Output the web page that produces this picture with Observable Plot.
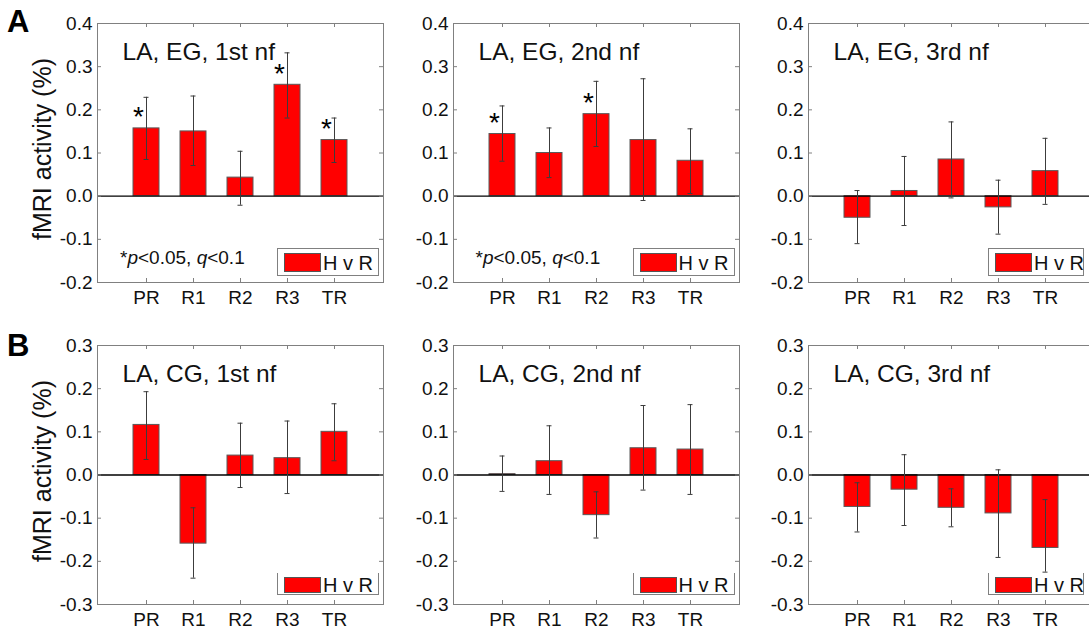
<!DOCTYPE html>
<html><head><meta charset="utf-8">
<script src="https://cdn.jsdelivr.net/npm/d3@7"></script>
<script src="https://cdn.jsdelivr.net/npm/@observablehq/plot@0.6"></script>
<style>
body{margin:0;background:#fff;overflow:hidden;font-family:"Liberation Sans",Arial,sans-serif;}
#root{position:relative;width:1089px;height:631px;overflow:hidden;background:#fff;}
.ylab{position:absolute;white-space:nowrap;font-size:25px;color:#111;transform:translate(-50%,-50%) rotate(-90deg);}
.letter{position:absolute;font-weight:bold;font-size:31px;color:#000;line-height:1;}
.note{position:absolute;font-size:19px;color:#111;white-space:nowrap;line-height:1;transform:translateY(-50%);}
.leg{position:absolute;background:#fff;box-sizing:border-box;}
.leg .patch{position:absolute;background:#ff0000;border:1px solid #555;box-sizing:border-box;}
.leg .txt{position:absolute;font-size:20px;color:#111;white-space:nowrap;line-height:1;transform:translateY(-50%);}
</style></head><body><div id="root"></div><script>
const categories = ["PR","R1","R2","R3","TR"];
const ticksA = [-0.2,-0.1,0,0.1,0.2,0.3,0.4];
const ticksB = [-0.3,-0.2,-0.1,0,0.1,0.2,0.3];
const titles = ["LA, EG, 1st nf","LA, EG, 2nd nf","LA, EG, 3rd nf","LA, CG, 1st nf","LA, CG, 2nd nf","LA, CG, 3rd nf"];
const yAxisLabel = "fMRI activity (%)";
const legendLabel = "H v R";

// Row A (EG)
const meanA1 = [0.157, 0.150, 0.043, 0.258, 0.130];
const hiA1   = [0.229, 0.232, 0.104, 0.332, 0.181];
const loA1   = [0.085, 0.071, -0.021, 0.181, 0.078];
const starA1 = [1,0,0,1,1];
const meanA2 = [0.144, 0.100, 0.190, 0.130, 0.082];
const hiA2   = [0.209, 0.158, 0.266, 0.272, 0.156];
const loA2   = [0.081, 0.043, 0.115, -0.010, 0.006];
const starA2 = [1,0,1,0,0];
const meanA3 = [-0.050, 0.012, 0.085, -0.026, 0.058];
const hiA3   = [0.013, 0.092, 0.172, 0.037, 0.134];
const loA3   = [-0.110, -0.068, -0.004, -0.088, -0.019];
const starA3 = [0,0,0,0,0];
// Row B (CG)
const meanB1 = [0.116, -0.159, 0.045, 0.039, 0.100];
const hiB1   = [0.193, -0.076, 0.120, 0.125, 0.165];
const loB1   = [0.036, -0.239, -0.029, -0.043, 0.033];
const meanB2 = [0.002, 0.032, -0.093, 0.062, 0.059];
const hiB2   = [0.044, 0.114, -0.039, 0.161, 0.163];
const loB2   = [-0.038, -0.045, -0.146, -0.035, -0.045];
const meanB3 = [-0.074, -0.034, -0.076, -0.089, -0.169];
const hiB3   = [-0.018, 0.047, -0.032, 0.012, -0.057];
const loB3   = [-0.132, -0.117, -0.120, -0.191, -0.225];
const noStars = [0,0,0,0,0];

const root = document.getElementById("root");
const W = 286, H = 259;
const mL = 60, mR = 12, mT = 8, mB = 36;
const frameGrey = "#808080";
const fmt = d => d.toFixed(1);

function panel(frameLeft, frameTop, yTicks, title, mean, lo, hi, stars) {
  const data = categories.map((c,i)=>({cat:c, mean:mean[i], lo:lo[i], hi:hi[i], star:stars[i]}));
  const chart = Plot.plot({
    width: mL+W+mR, height: mT+H+mB,
    marginLeft: mL, marginRight: mR, marginTop: mT, marginBottom: mB,
    style: {fontFamily: '"Liberation Sans", Arial, sans-serif', fontSize: "19px", color: "#111", background: "transparent", overflow: "visible"},
    x: {type: "band", domain: categories, paddingInner: 0.455, paddingOuter: 0.7275, label: null},
    y: {domain: [yTicks[0], yTicks[yTicks.length-1]], label: null},
    marks: [
      Plot.axisX({tickSize: 0, tickPadding: 8, fontSize: 19}),
      Plot.axisY(yTicks, {tickSize: 0, tickPadding: 5, tickFormat: fmt, fontSize: 19}),
      Plot.barY(data, {x: "cat", y: "mean", fill: "#ff0000", stroke: "#5a5a5a", strokeWidth: 1}),
      Plot.ruleY([0], {stroke: "#000", strokeWidth: 1.3}),
      Plot.ruleX(data, {x: "cat", y1: "lo", y2: "hi", stroke: "#3c3c3c", strokeWidth: 1}),
      Plot.tickY(data, {x: "cat", y: "lo", insetLeft: 10.5, insetRight: 10.5, stroke: "#3c3c3c"}),
      Plot.tickY(data, {x: "cat", y: "hi", insetLeft: 10.5, insetRight: 10.5, stroke: "#3c3c3c"}),
      Plot.text(data.filter(d => d.star), {x: "cat", y: "mean", text: () => "*", dx: -8, dy: -11, fontSize: 28, fill: "#000"}),
      Plot.tickY(yTicks, {y: d => d, insetRight: W-4, stroke: frameGrey}),
      Plot.tickY(yTicks, {y: d => d, insetLeft: W-4, stroke: frameGrey}),
      Plot.tickX(categories, {x: d => d, insetTop: H-4, stroke: frameGrey}),
      Plot.tickX(categories, {x: d => d, insetBottom: H-4, stroke: frameGrey}),
      Plot.frame({stroke: frameGrey, strokeWidth: 1}),
      Plot.text([title], {frameAnchor: "top-left", dx: 25, dy: 29, fontSize: 24.5, textAnchor: "start", lineAnchor: "middle", fill: "#111"})
    ]
  });
  chart.style.position = "absolute";
  chart.style.left = (frameLeft - mL) + "px";
  chart.style.top = (frameTop - mT) + "px";
  root.appendChild(chart);
}

function legend(frameLeft, frameBottom, row, w) {
  const d = document.createElement("div");
  d.className = "leg";
  const top = row === "A" ? frameBottom - 34 : frameBottom - 31.5;
  const h = row === "A" ? 28 : 22.5;
  d.style.left = (frameLeft + 180) + "px";
  d.style.top = top + "px";
  d.style.width = w + "px";
  d.style.height = h + "px";
  if (row === "A") d.style.border = "1px solid " + frameGrey;
  else { d.style.borderLeft = "1px solid " + frameGrey; d.style.borderBottom = "1px solid " + frameGrey; d.style.borderRight = "1px solid " + frameGrey; }
  const p = document.createElement("div");
  p.className = "patch";
  p.style.left = "6px"; p.style.width = "37px";
  p.style.top = "4px";
  p.style.height = (row === "A" ? 19 : 16) + "px";
  d.appendChild(p);
  const t = document.createElement("div");
  t.className = "txt";
  t.textContent = legendLabel;
  t.style.left = "45px";
  t.style.top = (row === "A" ? 13.5 : 12) + "px";
  d.appendChild(t);
  root.appendChild(d);
}

function addNote(x, y) {
  const n = document.createElement("div");
  n.className = "note";
  n.innerHTML = "*<i>p</i>&lt;0.05, <i>q</i>&lt;0.1";
  n.style.left = x + "px"; n.style.top = y + "px";
  root.appendChild(n);
}
function addYLabel(x, y) {
  const l = document.createElement("div");
  l.className = "ylab"; l.textContent = yAxisLabel;
  l.style.left = x + "px"; l.style.top = y + "px";
  root.appendChild(l);
}
function addLetter(t, x, y) {
  const l = document.createElement("div");
  l.className = "letter"; l.textContent = t;
  l.style.left = x + "px"; l.style.top = y + "px";
  root.appendChild(l);
}

const lefts = [97, 452.5, 808];
const topA = 23.3, topB = 345;
panel(lefts[0], topA, ticksA, titles[0], meanA1, loA1, hiA1, starA1);
panel(lefts[1], topA, ticksA, titles[1], meanA2, loA2, hiA2, starA2);
panel(lefts[2], topA, ticksA, titles[2], meanA3, loA3, hiA3, starA3);
panel(lefts[0], topB, ticksB, titles[3], meanB1, loB1, hiB1, noStars);
panel(lefts[1], topB, ticksB, titles[4], meanB2, loB2, hiB2, noStars);
panel(lefts[2], topB, ticksB, titles[5], meanB3, loB3, hiB3, noStars);

const widths = [102, 102, 96];
lefts.forEach((l, i) => legend(l, topA + H, "A", widths[i]));
lefts.forEach((l, i) => legend(l, topB + H, "B", widths[i]));
addNote(lefts[0] + 23, topA + H - 25);
addNote(lefts[1] + 23, topA + H - 25);
addYLabel(42, 149);
addYLabel(42, 471);
addLetter("A", 7, 6);
addLetter("B", 7, 330);
</script></body></html>
